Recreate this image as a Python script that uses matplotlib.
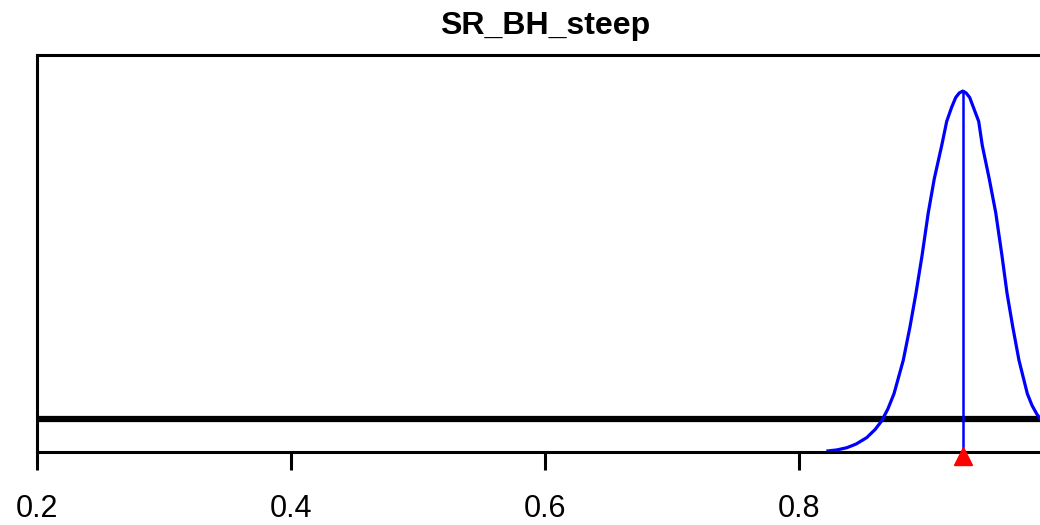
import matplotlib
matplotlib.use("Agg")
import matplotlib.pyplot as plt
import matplotlib.transforms as mtransforms

plt.rcParams['font.family'] = ['Liberation Sans', 'DejaVu Sans']

# parameter name and bounds
par_name = "SR_BH_steep"
par_min, par_max = 0.2, 1.0
xticks = [0.2, 0.4, 0.6, 0.8]
xticklabels = ["0.2", "0.4", "0.6", "0.8"]

# prior density (uniform over the bounds)
prior_x = [0.2, 1.0]
prior_d = [1.25, 1.25]

# estimated distribution
post_x = [0.8228, 0.8300, 0.8376, 0.8450, 0.8533, 0.8600, 0.8651, 0.8700,
          0.8748, 0.8821, 0.8874, 0.8921, 0.8969, 0.9018, 0.9065, 0.9124,
          0.9163, 0.9201, 0.9234, 0.9262, 0.9289, 0.9316, 0.9344, 0.9374,
          0.9415, 0.9443, 0.9498, 0.9549, 0.9598, 0.9638, 0.9683, 0.9732,
          0.9798, 0.9835, 0.9872, 0.9930, 1.0]
post_d = [0.04, 0.08, 0.16, 0.30, 0.54, 0.85, 1.17, 1.62,
          2.19, 3.45, 4.71, 5.97, 7.39, 9.00, 10.27, 11.53,
          12.43, 12.95, 13.33, 13.50, 13.57, 13.50, 13.33, 12.95,
          12.43, 11.53, 10.27, 9.00, 7.39, 5.97, 4.71, 3.45,
          2.19, 1.75, 1.43, 1.05, 0.80]

# MLE
mle = 0.9289
mle_d = 13.57

fig = plt.figure(figsize=(10.4, 5.25), dpi=100)
ax = fig.add_axes([37 / 1040, 73 / 525, 1016 / 1040, 397 / 525])

ax.plot(prior_x, prior_d, color="black", lw=4.5, solid_capstyle="butt")
ax.plot(post_x, post_d, color="#0000FF", lw=2.3)
ax.plot([mle, mle], [0, mle_d], color="#0000FF", lw=1.8)

tri = mtransforms.offset_copy(ax.transData, fig=fig, y=-3, units="points")
ax.plot([mle], [0], marker="^", color="#FF0000", markersize=13,
        transform=tri, clip_on=False, zorder=5)

ax.set_xlim(par_min, par_max)
ax.set_ylim(0, 1.1 * max(post_d))

for s in ax.spines.values():
    s.set_linewidth(2.2)

ax.set_xticks(xticks)
ax.set_xticklabels(xticklabels)
ax.set_yticks([])
ax.tick_params(axis="x", direction="out", length=13, width=2.2,
               pad=17, labelsize=22)

ax.set_title(par_name, fontsize=23, fontweight="bold", pad=15)

fig.savefig("out.png", dpi=100)
